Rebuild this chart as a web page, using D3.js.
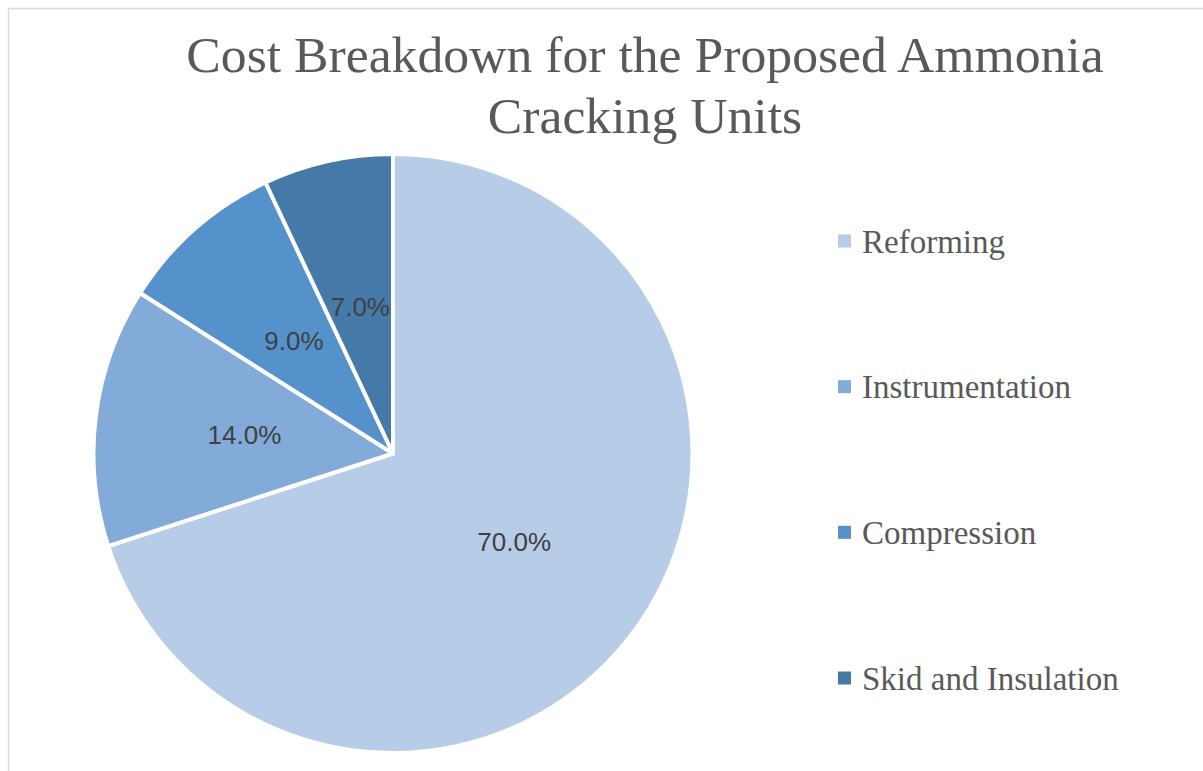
<!DOCTYPE html>
<html><head><meta charset="utf-8">
<script src="https://cdn.jsdelivr.net/npm/d3@7"></script>
<style>html,body{margin:0;padding:0;background:#fff;overflow:hidden}</style>
</head><body>
<svg id="chart" width="1203" height="771"></svg>
<script>
const categories = ["Reforming", "Instrumentation", "Compression", "Skid and Insulation"];
const values = [70.0, 14.0, 9.0, 7.0];
const colors = ["#B7CCE7", "#82ABDA", "#5592CB", "#4479A8"];
const titleLines = ["Cost Breakdown for the Proposed Ammonia", "Cracking Units"];

const svg = d3.select("#chart");
svg.append("rect").attr("x", 8.5).attr("y", 8.5).attr("width", 1300).attr("height", 900)
  .attr("fill", "#fff").attr("stroke", "#d9d9d9").attr("stroke-width", 1.5);

const title = svg.append("text").attr("text-anchor", "middle")
  .attr("font-family", "'Liberation Serif', serif").attr("font-size", 51.7).attr("fill", "#595959");
titleLines.forEach((t, i) => title.append("tspan").attr("x", 645).attr("y", 72 + i * 61).text(t));

const cx = 393, cy = 453.5, R = 299.5;
const pie = d3.pie().sort(null).value(d => d)(values);
const arc = d3.arc().innerRadius(0).outerRadius(R);
const color = d3.scaleOrdinal().domain(categories).range(colors);
const g = svg.append("g").attr("transform", `translate(${cx},${cy})`);
g.selectAll("path").data(pie).enter().append("path")
  .attr("d", arc).attr("fill", (d, i) => color(categories[i]))
  .attr("stroke", "#fff").attr("stroke-width", 4).attr("stroke-linejoin", "round");
g.selectAll("text.lbl").data(pie).enter().append("text").attr("class", "lbl")
  .attr("transform", d => `translate(${arc.centroid(d)})`)
  .attr("text-anchor", "middle").attr("dy", "0.35em")
  .attr("font-family", "'Liberation Sans', Arial, sans-serif").attr("font-size", 26).attr("fill", "#404040")
  .text(d => d3.format(".1f")(d.data) + "%");

const legendY = d3.scalePoint().domain(categories).range([241, 678]);
const lg = svg.append("g");
categories.forEach(c => {
  lg.append("rect").attr("x", 838).attr("y", legendY(c) - 6.5).attr("width", 13).attr("height", 13).attr("fill", color(c));
  lg.append("text").attr("x", 862).attr("y", legendY(c)).attr("dy", "0.35em")
    .attr("font-family", "'Liberation Serif', serif").attr("font-size", 33).attr("fill", "#595959").text(c);
});
</script>
</body></html>
